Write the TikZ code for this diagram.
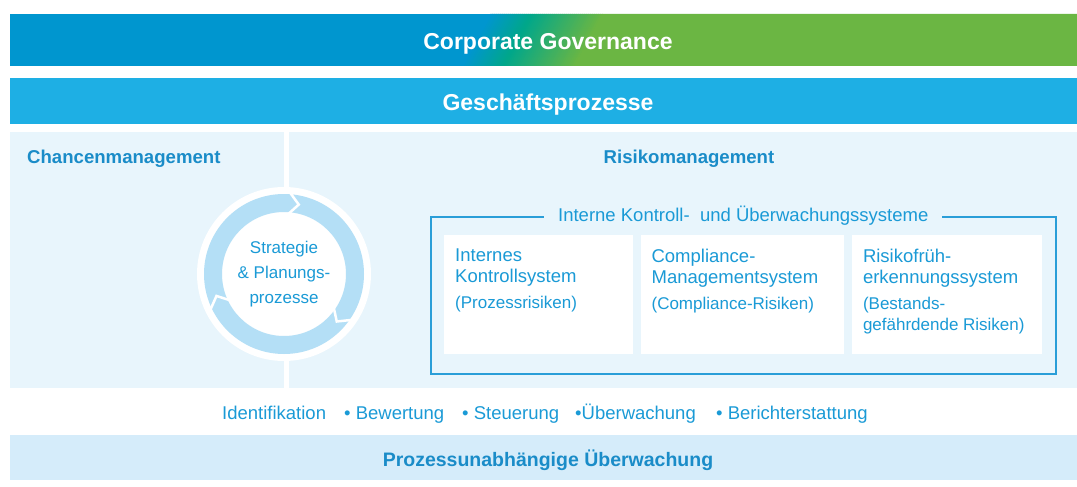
\documentclass[tikz,border=0pt]{standalone}
\usepackage{fontspec}
\setmainfont{Liberation Sans}
\usetikzlibrary{positioning,calc}
\definecolor{cgblue}{HTML}{0096CF}
\definecolor{cgteal}{HTML}{00A78B}
\definecolor{cggreen}{HTML}{6BB643}
\definecolor{gpblue}{HTML}{1EAFE4}
\definecolor{areabg}{HTML}{E8F5FC}
\definecolor{ringblue}{HTML}{B4DFF6}
\definecolor{txtblue}{HTML}{1A9AD6}
\definecolor{headblue}{HTML}{1A8CC8}
\definecolor{bottombg}{HTML}{D5ECFA}
\definecolor{framecol}{HTML}{2A9ED8}
\newcommand\risksmall{\fontsize{17}{21}\selectfont}
\tikzset{
  band/.style={anchor=north west, inner sep=0pt, minimum width=1077},
  bandtext/.style={anchor=base, inner sep=0pt, text=white, font=\bfseries\fontsize{23}{27}\selectfont},
  head/.style={inner sep=0pt, text=headblue, font=\bfseries\fontsize{18.6}{22}\selectfont},
  iksbox/.style={anchor=north west, fill=white, inner sep=0pt, minimum height=119},
  boxtext/.style={inner sep=0pt, align=left, text=txtblue, font=\fontsize{18.5}{21}\selectfont},
  listtext/.style={inner sep=0pt, anchor=base west, text=txtblue, font=\fontsize{18.5}{21}\selectfont}
}
\begin{document}
\begin{tikzpicture}[x=1pt,y=-1pt]
\useasboundingbox (0,0) rectangle (1077,487);
% Corporate Governance
\fill[cgblue] (10,14) rectangle (1087,66);
\foreach \i in {0,...,55} {
  \pgfmathtruncatemacro\p{min(\i,20)*5}
  \pgfmathtruncatemacro\q{max(\i-20,0)*100/36}
  \fill[cggreen!\q!cgteal!\p!cgblue] (462+2*\i,66) -- (464.6+2*\i,66) -- (492.6+2*\i,14) -- (490+2*\i,14) -- cycle;
}
\fill[cggreen] (574,66) -- (1087,66) -- (1087,14) -- (602,14) -- cycle;
\node[band, minimum height=52] (cg) at (10,14) {};
\node[bandtext] (cgt) at (548,50) {Corporate Governance};
% Geschaeftsprozesse
\node[band, fill=gpblue, minimum height=46] (gp) at (10,78) {};
\node[bandtext] (gpt) at (548,110.5) {Geschäftsprozesse};
% Chancen / Risiken
\node[anchor=north west, fill=areabg, inner sep=0pt, minimum width=274, minimum height=256] (ch) at (10,132) {};
\node[anchor=north west, fill=areabg, inner sep=0pt, minimum width=798, minimum height=256] (rm) at (289,132) {};
\node[head, anchor=base west] (cht) at (27,163) {Chancenmanagement};
\node[head, anchor=base] (rmt) at (689,163) {Risikomanagement};
% Kreislauf
\coordinate (c) at (284,274);
\fill[white] (c) circle[radius=87];
\fill[ringblue, even odd rule] (c) circle[radius=80] (c) circle[radius=62];
\foreach \a in {274,34,154}
  \draw[white, line width=2.5pt, line join=miter] ($(c)+(\a:60)$) -- ($(c)+(\a+8:71)$) -- ($(c)+(\a:82)$);
\node[boxtext, align=center, font=\fontsize{17}{25}\selectfont] (sp) at (c) {Strategie\\\& Planungs-\\prozesse};
% IKS
\node[anchor=north west, draw=framecol, line width=1.5pt, inner sep=0pt, minimum width=625, minimum height=157] (iks) at (430,216) {};
\node[boxtext, fill=areabg, inner xsep=14pt, inner ysep=2pt] (ikst) at (iks.north) {Interne Kontroll- \ und Überwachungssysteme};
\node[iksbox, minimum width=189] (iksa) at (444,235) {};
\node[iksbox, minimum width=203, right=7pt of iksa] (iksb) {};
\node[iksbox, minimum width=190, right=8pt of iksb] (iksc) {};
\node[boxtext, anchor=north west, below right=14pt and 11pt of iksa.north west] (iksat)
  {Internes\\Kontrollsystem\\[5pt]\risksmall(Prozessrisiken)};
\node[boxtext, anchor=north west, below right=14pt and 11pt of iksb.north west] (iksbt)
  {Compliance-\\Managementsystem\\[5pt]\risksmall(Compliance-Risiken)};
\node[boxtext, anchor=north west, below right=14pt and 11pt of iksc.north west] (iksct)
  {Risikofrüh-\\erkennungssystem\\[5pt]\risksmall(Bestands-\\\risksmall gefährdende Risiken)};
% Prozessschritte
\node[listtext] (l1) at (222,419) {Identifikation};
\node[listtext] (l2) at (344,419) {• Bewertung};
\node[listtext] (l3) at (462,419) {• Steuerung};
\node[listtext] (l4) at (575,419) {•Überwachung};
\node[listtext] (l5) at (716,419) {• Berichterstattung};
% Prozessunabhaengige Ueberwachung
\node[band, fill=bottombg, minimum height=45] (pu) at (10,435) {};
\node[bandtext, text=headblue, font=\bfseries\fontsize{19.5}{23}\selectfont] (put) at (548,466) {Prozessunabhängige Überwachung};
\end{tikzpicture}
\end{document}
